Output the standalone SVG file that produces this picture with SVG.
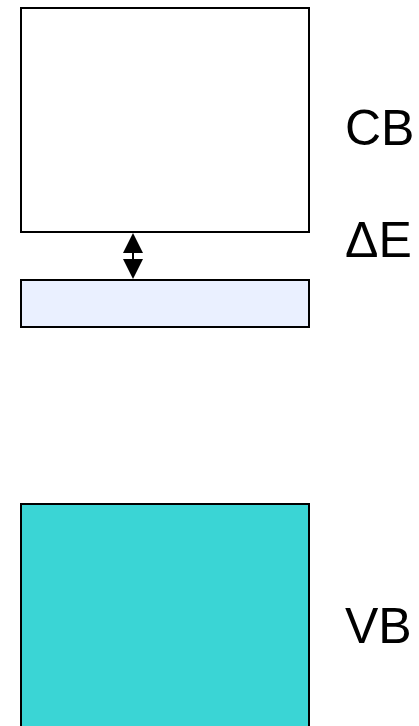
<svg xmlns="http://www.w3.org/2000/svg" width="419" height="726" viewBox="0 0 419 726">
<style>
.band{stroke:#000;stroke-width:2}
.lbl{font-family:"Liberation Sans",Arial,sans-serif;font-size:50px;fill:#000}
</style>
<rect width="419" height="726" fill="#fff"/>
<g id="cb"><rect class="band" x="21" y="8" width="288" height="224" fill="#fff"/></g>
<g id="level"><rect class="band" x="21" y="280" width="288" height="47" fill="#EAF0FF"/></g>
<g id="vb"><rect class="band" x="21" y="504" width="288" height="240" fill="#3AD5D5"/></g>
<g id="connectors">
<line x1="133" y1="250" x2="133" y2="262" stroke="#000" stroke-width="2"/>
<polygon points="133,233 123,253 143,253" fill="#000"/>
<polygon points="133,279 123,259 143,259" fill="#000"/>
</g>
<g id="labels">
<text class="lbl" x="345" y="145">CB</text>
<text class="lbl" x="345" y="257">ΔE</text>
<text class="lbl" x="345" y="643">VB</text>
</g>
</svg>
